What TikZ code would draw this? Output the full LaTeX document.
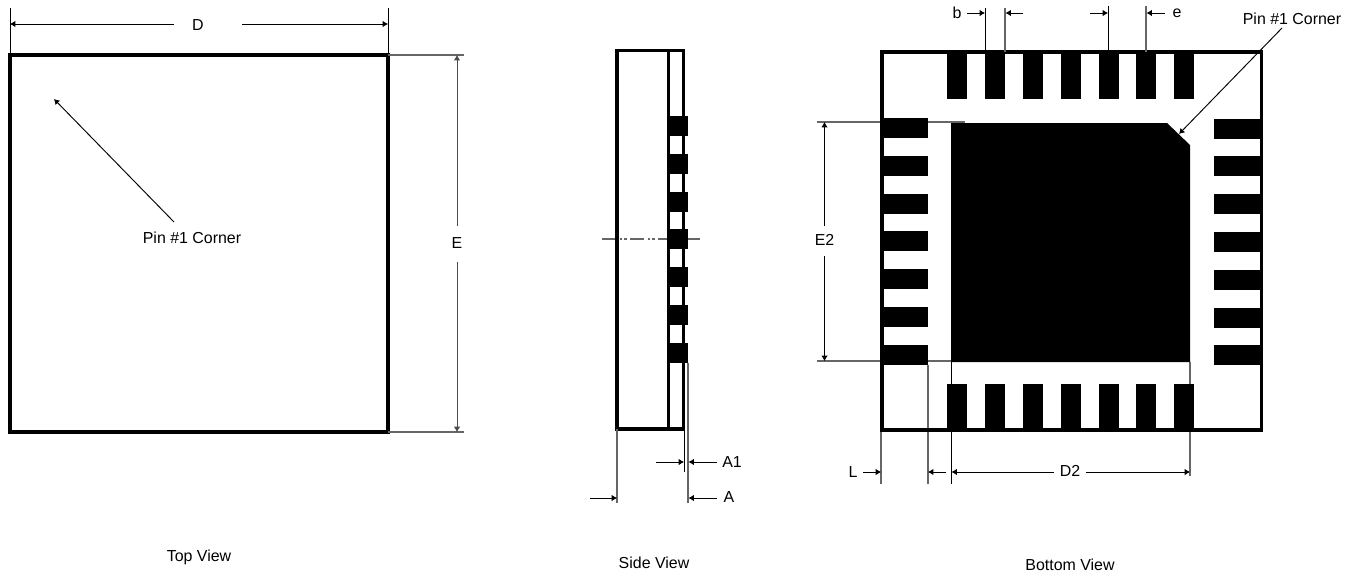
\documentclass[tikz,border=0pt]{standalone}
\usepackage{fontspec}
\setmainfont{Liberation Sans}
\usetikzlibrary{arrows.meta}
\begin{document}
\begin{tikzpicture}[x=0.03cm, y=-0.03cm, >={Latex[length=4.5pt,width=5.5pt]}, line cap=butt,
        outline/.style={draw, line width=2.6pt},
        thinline/.style={draw, line width=0.8pt},
        extline/.style={draw, line width=1.1pt, black!60},
        dim/.style={->, line width=0.8pt},
        pad/.style={fill=black, draw=none},
        lab/.style={font=\fontsize{13.6}{16}\selectfont, inner sep=1pt}]
        \useasboundingbox (0,0) rectangle (1351,576);

        % Top view
        \draw[outline] (10,55) rectangle (388,432);
        \coordinate (tl) at (10,55);
        \coordinate (tr) at (388,55);
        \coordinate (bl) at (10,432);
        \coordinate (br) at (388,432);
        \coordinate (dTopL) at (10,8);
        \coordinate (dTopR) at (388,8);
        \coordinate (eTopR) at (464,55);
        \coordinate (eBotR) at (464,432);
        \draw[thinline] (tl) -- (dTopL);
        \draw[thinline] (tr) -- (dTopR);
        \draw[extline] (tr) -- (eTopR);
        \draw[extline] (br) -- (eBotR);

        \node[lab] (labD) at (198,25) {D};
        \coordinate (dA) at (174,24);
        \coordinate (dB) at (242,24);
        \coordinate (dC) at (10,24);
        \coordinate (dD) at (388,24);
        \draw[dim] (dA) -- (dC);
        \draw[dim] (dB) -- (dD);

        \node[lab] (labE) at (457,243) {E};
        \coordinate (eA) at (457,226);
        \coordinate (eB) at (457,262);
        \coordinate (eC) at (457,55);
        \coordinate (eD) at (457,432);
        \draw[dim, black!70] (eA) -- (eC);
        \draw[dim, black!70] (eB) -- (eD);

        \node[lab] (pinTop) at (192,238) {Pin \#1 Corner};
        \coordinate (pinTopA) at (174,222);
        \coordinate (pinTopB) at (54,99);
        \draw[dim] (pinTopA) -- (pinTopB);
        \node[lab] (topView) at (199,557) {Top View};

        % Side view
        \coordinate (cenA) at (602,239);
        \coordinate (cenB) at (700,239);
        \draw[extline, dash pattern=on 12pt off 3pt on 2pt off 2pt on 2pt off 3pt] (cenA) -- (cenB);
        \draw[outline] (617,50.5) rectangle (683.5,429);
        \draw[outline] (668.5,50.5) -- (668.5,429);
        \foreach \y in {116,153.8,191.6,229.4,267.2,305,342.8}
            \fill[pad] (668,\y) rectangle (688,\y+20);

        \coordinate (sideL) at (617,429);
        \coordinate (sideLb) at (617,503);
        \coordinate (sideM) at (684,429);
        \coordinate (sideMb) at (684,472);
        \coordinate (sideR) at (688,363);
        \coordinate (sideRb) at (688,503);
        \draw[extline] (sideL) -- (sideLb);
        \draw[thinline] (sideM) -- (sideMb);
        \draw[extline] (sideR) -- (sideRb);

        \node[lab] (labAone) at (732,462) {A1};
        \node[lab] (labA) at (729,497) {A};
        \coordinate (aoneA) at (656,462);
        \coordinate (aoneB) at (684,462);
        \coordinate (aoneC) at (717,462);
        \coordinate (aoneD) at (688.5,462);
        \coordinate (aA) at (590,498);
        \coordinate (aB) at (617,498);
        \coordinate (aC) at (717,498);
        \coordinate (aD) at (688.5,498);
        \draw[dim] (aoneA) -- (aoneB);
        \draw[dim] (aoneC) -- (aoneD);
        \draw[dim] (aA) -- (aB);
        \draw[dim] (aC) -- (aD);
        \node[lab] (sideView) at (654,563) {Side View};

        % Bottom view, extension lines first
        \coordinate (eTwoA) at (817,122);
        \coordinate (eTwoB) at (965,122);
        \coordinate (eTwoC) at (817,361);
        \coordinate (eTwoD) at (951,361);
        \draw[extline] (eTwoA) -- (eTwoB);
        \draw[extline] (eTwoC) -- (eTwoD);
        \coordinate (exA) at (881,430);
        \coordinate (exAb) at (881,484);
        \coordinate (exB) at (928,365);
        \coordinate (exBb) at (928,484);
        \coordinate (exC) at (951.5,362);
        \coordinate (exCb) at (951.5,484);
        \coordinate (exD) at (1190,362);
        \coordinate (exDb) at (1190,476);
        \draw[extline] (exA) -- (exAb);
        \draw[extline] (exB) -- (exBb);
        \draw[thinline] (exC) -- (exCb);
        \draw[extline] (exD) -- (exDb);

        % Bottom view, pads
        \foreach \x in {947.3,985.1,1022.9,1060.7,1098.5,1136.3,1174.1} {
            \fill[pad] (\x,52) rectangle (\x+20,99);
            \fill[pad] (\x,384) rectangle (\x+20,430);
        }
        \foreach \y in {118,155.8,193.6,231.4,269.2,307,344.8} {
            \fill[pad] (882,\y) rectangle (928,\y+20);
            \fill[pad] (1214,\y+0.5) rectangle (1261,\y+20.5);
        }
        \fill[pad] (951,123) -- (1167,123) -- (1190,145) -- (1190,362) -- (951,362) -- cycle;
        \draw[outline] (882,52) rectangle (1261.5,430);

        \node[lab] (labEtwo) at (824.5,240) {E2};
        \coordinate (etA) at (824.5,226);
        \coordinate (etB) at (824.5,256);
        \coordinate (etC) at (824.5,122);
        \coordinate (etD) at (824.5,361);
        \draw[dim] (etA) -- (etC);
        \draw[dim] (etB) -- (etD);

        \node[lab] (labL) at (853,472) {L};
        \coordinate (lA) at (863,472);
        \coordinate (lB) at (881,472);
        \coordinate (lC) at (946,472);
        \coordinate (lD) at (928,472);
        \draw[dim] (lA) -- (lB);
        \draw[dim] (lC) -- (lD);

        \node[lab] (labDtwo) at (1070,471) {D2};
        \coordinate (dtA) at (1054,472);
        \coordinate (dtB) at (1086,472);
        \coordinate (dtC) at (951.5,472);
        \coordinate (dtD) at (1190,472);
        \draw[dim] (dtA) -- (dtC);
        \draw[dim] (dtB) -- (dtD);

        \coordinate (bA) at (985.5,8);
        \coordinate (bAb) at (985.5,52);
        \coordinate (bB) at (1005,8);
        \coordinate (bBb) at (1005,52);
        \coordinate (eeA) at (1108,6);
        \coordinate (eeAb) at (1108,52);
        \coordinate (eeB) at (1146,6);
        \coordinate (eeBb) at (1146,52);
        \draw[thinline] (bA) -- (bAb);
        \draw[extline] (bB) -- (bBb);
        \draw[thinline] (eeA) -- (eeAb);
        \draw[extline] (eeB) -- (eeBb);

        \node[lab] (labb) at (957,13) {b};
        \node[lab] (labe) at (1177,13) {e};
        \coordinate (baA) at (967,13);
        \coordinate (baB) at (985,13);
        \coordinate (baC) at (1023,13);
        \coordinate (baD) at (1005.5,13);
        \coordinate (eaA) at (1090,13);
        \coordinate (eaB) at (1108,13);
        \coordinate (eaC) at (1165,13);
        \coordinate (eaD) at (1146.5,13);
        \draw[dim] (baA) -- (baB);
        \draw[dim] (baC) -- (baD);
        \draw[dim] (eaA) -- (eaB);
        \draw[dim] (eaC) -- (eaD);

        \node[lab] (pinBot) at (1292,19) {Pin \#1 Corner};
        \coordinate (pinBotA) at (1282,28);
        \coordinate (pinBotB) at (1179,134);
        \draw[dim] (pinBotA) -- (pinBotB);
        \node[lab] (bottomView) at (1070,565) {Bottom View};
    \end{tikzpicture}
\end{document}
